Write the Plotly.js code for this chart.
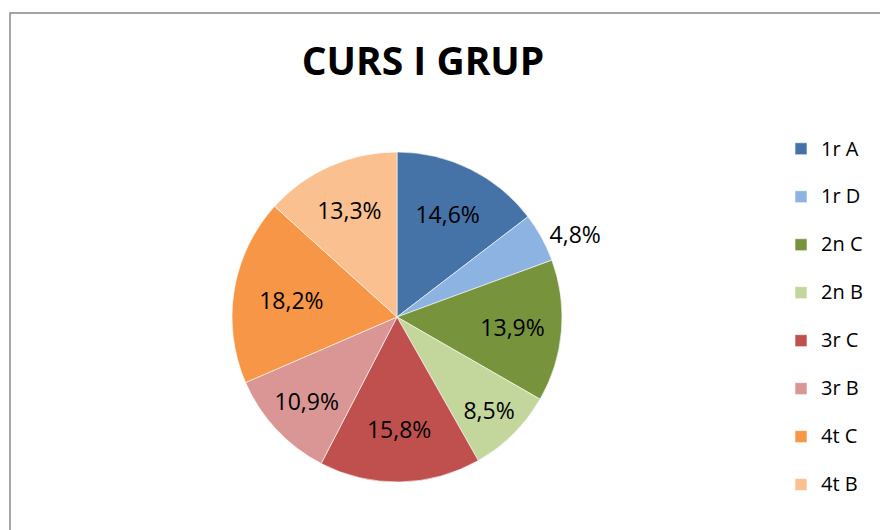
<!DOCTYPE html>
<html>
<head>
<meta charset="utf-8">
<script src="https://cdn.plot.ly/plotly-3.0.1.min.js"></script>
<style>
  html, body { margin: 0; padding: 0; background: #fff; }
  #chart { width: 880px; height: 530px; }
</style>
</head>
<body>
<div id="chart"></div>
<script>
const groups = ["1r A", "1r D", "2n C", "2n B", "3r C", "3r B", "4t C", "4t B"];
const shares = [14.6, 4.8, 13.9, 8.5, 15.8, 10.9, 18.2, 13.3];
const sliceColours = ["#4572a7", "#8db3e2", "#77933c", "#c3d69b", "#c0504d", "#d99694", "#f79646", "#fac090"];
const labelSpots = ["inside", "outside", "inside", "inside", "inside", "inside", "inside", "inside"];

const W = 880, H = 530;

// bigger first line, blank second line: gives the roomy legend spacing of the original
const legendLabels = groups.map(g => "<span style='font-size:20px'>" + g + "</span><br> ");

const trace = {
    type: "pie",
    labels: legendLabels,
    values: shares,
    sort: false,
    direction: "clockwise",
    rotation: 0,
    marker: { colors: sliceColours, line: { color: "#ffffff", width: 0.6 } },
    textinfo: "percent",
    texttemplate: "%{percent:.1%}",
    textposition: labelSpots,
    insidetextorientation: "horizontal",
    textfont: { family: "Open Sans, sans-serif", size: 23, color: "#000" },
    outsidetextfont: { family: "Open Sans, sans-serif", size: 23, color: "#000" },
    domain: {
        x: [(397 - 165) / W, (397 + 165) / W],
        y: [1 - 482 / H, 1 - 152 / H]
    },
    hoverinfo: "none"
};

const layout = {
    width: W,
    height: H,
    separators: ",.",
    margin: { l: 0, r: 0, t: 0, b: 0 },
    paper_bgcolor: "#fff",
    title: {
        text: "<b>CURS I GRUP</b>",
        font: { family: "Open Sans, sans-serif", size: 39, color: "#000" },
        x: 423 / W,
        xanchor: "center",
        y: 1 - 61 / H,
        yanchor: "middle"
    },
    showlegend: true,
    legend: {
        x: 781 / W,
        xanchor: "left",
        y: 1 - 131 / H,
        yanchor: "top",
        valign: "top",
        font: { family: "Open Sans, sans-serif", size: 17.3, color: "#000" },
        bgcolor: "rgba(0,0,0,0)"
    },
    shapes: [{
        type: "rect",
        xref: "paper", yref: "paper",
        x0: 10 / W, x1: 1.05,
        y0: -0.05, y1: 1 - 13 / H,
        line: { color: "#888888", width: 1.5 },
        fillcolor: "rgba(0,0,0,0)"
    }]
};

Plotly.newPlot("chart", [trace], layout, { staticPlot: true });
</script>
</body>
</html>
